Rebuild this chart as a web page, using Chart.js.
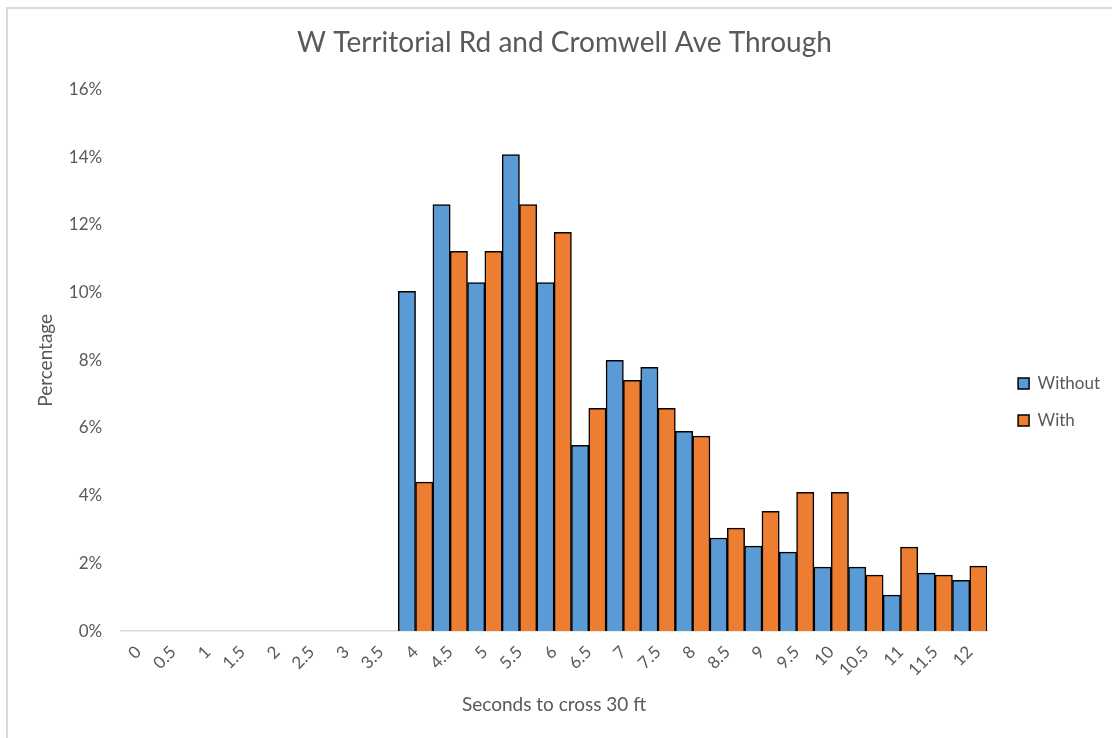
<!DOCTYPE html>
<html>
<head>
<meta charset="utf-8">
<script src="https://cdn.jsdelivr.net/npm/chart.js@4.4.1/dist/chart.umd.min.js"></script>
<style>
  html, body { margin: 0; padding: 0; background: #fff; overflow: hidden; }
  #wrap { position: relative; width: 1112px; height: 738px; }
  #frame { position: absolute; left: 6px; top: 7px; right: -10px; bottom: -10px;
           border-left: 2px solid #d9d9d9; border-top: 2px solid #d9d9d9; pointer-events: none; }
</style>
</head>
<body>
<div id="wrap">
  <canvas id="myChart" width="1112" height="738"></canvas>
  <div id="frame"></div>
</div>
<script>
// categories on the x axis (seconds)
const seconds = ['0', '0.5', '1', '1.5', '2', '2.5', '3', '3.5', '4', '4.5', '5', '5.5', '6',
                 '6.5', '7', '7.5', '8', '8.5', '9', '9.5', '10', '10.5', '11', '11.5', '12'];

// percentages
const without = [0, 0, 0, 0, 0, 0, 0, 0, 10.04, 12.6, 10.3, 14.08, 10.3,
                 5.49, 8.0, 7.79, 5.9, 2.75, 2.51, 2.33, 1.89, 1.89, 1.06, 1.71, 1.5];
const withData = [0, 0, 0, 0, 0, 0, 0, 0, 4.4, 11.22, 11.22, 12.6, 11.78,
                  6.58, 7.41, 6.58, 5.76, 3.04, 3.54, 4.1, 4.1, 1.65, 2.48, 1.65, 1.92];

const yMax = 16;
const yStep = 2;

Chart.defaults.font.family = 'Lato, "Open Sans", sans-serif';
Chart.defaults.color = '#595959';

// nudge the legend so it sits like the original (lower and a bit right)
const legendShift = {
    id: 'legendShift',
    afterLayout(chart) {
        const lg = chart.legend;
        if (lg) {
            lg.top += 32; lg.bottom += 32;
            lg.left += 11; lg.right += 11;
        }
    }
};

const ctx = document.getElementById('myChart');

const chart = new Chart(ctx, {
    type: 'bar',
    data: {
        labels: seconds,
        datasets: [{
            label: 'Without',
            data: without,
            backgroundColor: '#5b9bd5',
            borderColor: '#000000',
            borderWidth: 1.5,
            barPercentage: 1,
            categoryPercentage: 1
        }, {
            label: 'With',
            data: withData,
            backgroundColor: '#ed7d31',
            borderColor: '#000000',
            borderWidth: 1.5,
            barPercentage: 1,
            categoryPercentage: 1
        }]
    },
    options: {
        responsive: false,
        animation: false,
        layout: {
            padding: { left: 30, right: 13, top: 20, bottom: 18 }
        },
        scales: {
            x: {
                grid: { display: false },
                border: { display: true, color: '#d9d9d9', width: 1.5 },
                ticks: {
                    minRotation: 45,
                    maxRotation: 45,
                    font: { size: 17 },
                    color: '#595959'
                },
                title: {
                    display: true,
                    text: 'Seconds to cross 30 ft',
                    font: { size: 19 },
                    color: '#595959',
                    padding: { top: 10 }
                }
            },
            y: {
                min: 0,
                max: yMax,
                grid: { display: false },
                border: { display: false },
                ticks: {
                    stepSize: yStep,
                    font: { size: 17 },
                    color: '#595959',
                    padding: 11,
                    callback: v => v + '%'
                },
                title: {
                    display: true,
                    text: 'Percentage',
                    font: { size: 19 },
                    color: '#595959',
                    padding: { bottom: 1 }
                }
            }
        },
        plugins: {
            title: {
                display: true,
                text: 'W Territorial Rd and Cromwell Ave Through',
                font: { size: 28, weight: 'normal' },
                color: '#595959',
                padding: { top: 6, bottom: 30 }
            },
            legend: {
                position: 'right',
                labels: {
                    boxWidth: 11,
                    boxHeight: 11,
                    padding: 20,
                    font: { size: 17 },
                    color: '#595959'
                }
            },
            tooltip: { enabled: false }
        }
    },
    plugins: [legendShift]
});
</script>
</body>
</html>
